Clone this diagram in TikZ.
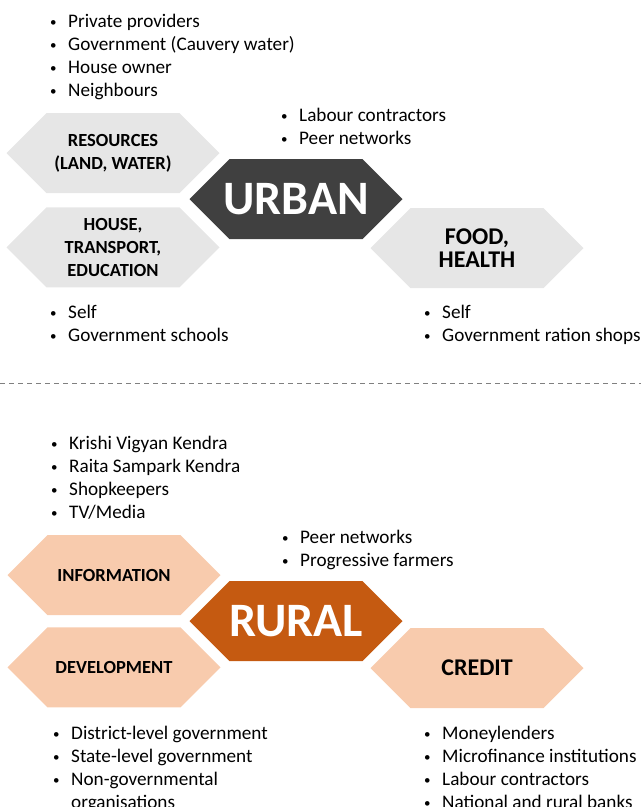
\documentclass[tikz,border=0pt]{standalone}
\usepackage{fontspec}
\setmainfont{Carlito}
\usetikzlibrary{positioning,shapes.symbols}

\definecolor{sidegray}{HTML}{E6E6E6}
\definecolor{urbandark}{HTML}{404040}
\definecolor{ruralrust}{HTML}{C55A11}
\definecolor{sidepeach}{HTML}{F8CBAD}

% bullet lists
\newcommand{\blist}[1]{{\fontsize{19.2}{23}\selectfont
  \begin{tabular}{@{}p{18pt}@{}l@{}}#1\end{tabular}}}
\newcommand{\itm}{\raisebox{1pt}{\fontsize{13}{13}\selectfont\textbullet} &}
% centre word, allowed to run past the flat top
\newcommand{\cword}[1]{\makebox[120pt]{#1}}

\tikzset{
  hexa/.style={signal, signal to=west and east, signal pointer angle=90,
    minimum width=213pt, minimum height=80pt, inner sep=0pt,
    align=center, font=\bfseries},
  sidegrey/.style={hexa, fill=sidegray},
  sidepch/.style={hexa, fill=sidepeach},
  centre/.style={hexa, text=white, font=\bfseries\fontsize{48}{52}\selectfont},
  small/.style={font=\bfseries\fontsize{18.5}{23}\selectfont},
  big/.style={font=\bfseries\fontsize{24}{23}\selectfont},
  lst/.style={anchor=north west, inner sep=0pt}
}

\begin{document}
\begin{tikzpicture}[x=1pt,y=-1pt]
\useasboundingbox (0,0) rectangle (641,807);

% urban
\node (res) [sidegrey, small] at (113,153) {RESOURCES\\(LAND, WATER)};
\node (house) [sidegrey, small, below=14pt of res] {HOUSE,\\TRANSPORT,\\EDUCATION};
\node (urban) [centre, fill=urbandark] at (296,199) {\cword{URBAN}};
\node (food) [sidegrey, big] at (477,248) {FOOD,\\HEALTH};

\node (ures) [lst] at (50,11) {\blist{\itm Private providers\\ \itm Government (Cauvery water)\\
  \itm House owner\\ \itm Neighbours}};
\node (ulab) [lst] at (281,105) {\blist{\itm Labour contractors\\ \itm Peer networks}};
\node (uhouse) [lst] at (50,302) {\blist{\itm Self\\ \itm Government schools}};
\node (ufood) [lst] at (424,302) {\blist{\itm Self\\ \itm Government ration shops}};

% divider
\coordinate (dl) at (0,383);
\coordinate (dr) at (641,383);
\draw[gray, line width=1pt, dash pattern=on 5pt off 4pt] (dl) -- (dr);

% rural
\node (info) [sidepch, small] at (114,575) {INFORMATION};
\node (dev) [sidepch, small, below=12pt of info] {DEVELOPMENT};
\node (rural) [centre, fill=ruralrust] at (296,621) {\cword{RURAL}};
\node (credit) [sidepch, big] at (477,668) {CREDIT};

\node (rinfo) [lst] at (51,433) {\blist{\itm Krishi Vigyan Kendra\\ \itm Raita Sampark Kendra\\
  \itm Shopkeepers\\ \itm TV/Media}};
\node (rpeer) [lst] at (282,527) {\blist{\itm Peer networks\\ \itm Progressive farmers}};
\node (rdev) [lst] at (53,723) {\blist{\itm District-level government\\ \itm State-level government\\
  \itm Non-governmental\\ & organisations}};
\node (rcred) [lst] at (424,723) {\blist{\itm Moneylenders\\ \itm Microfinance institutions\\
  \itm Labour contractors\\ \itm National and rural banks}};
\end{tikzpicture}
\end{document}
